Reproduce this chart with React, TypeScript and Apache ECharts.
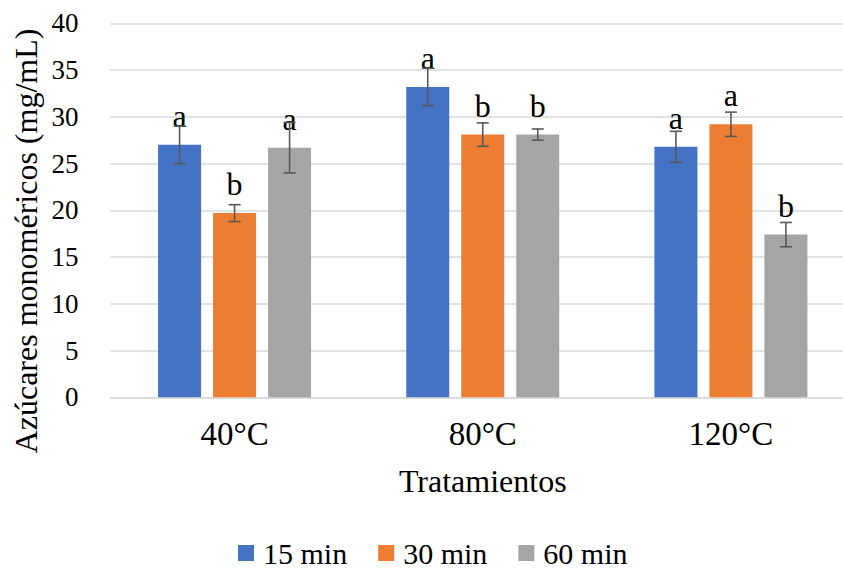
import React, { useEffect, useRef } from "react";
import * as echarts from "echarts";

const categories = ["40°C", "80°C", "120°C"];
const seriesNames = ["15 min", "30 min", "60 min"];
const values15 = [27.0, 33.2, 26.8];
const values30 = [19.7, 28.1, 29.2];
const values60 = [26.7, 28.1, 17.4];
const errors15 = [2.0, 2.0, 1.65];
const errors30 = [0.9, 1.25, 1.3];
const errors60 = [2.7, 0.6, 1.3];
const letters15 = ["a", "a", "a"];
const letters30 = ["b", "b", "a"];
const letters60 = ["a", "b", "b"];
const yTicks = [0, 5, 10, 15, 20, 25, 30, 35, 40];

const colors = ["#4472C4", "#ED7D31", "#A5A5A5"];
const FONT = "Liberation Serif";
const BAR_W = 43;
const BAR_GAP = 12;

export default function App() {
  const ref = useRef<HTMLDivElement>(null);
  useEffect(() => {
    if (!ref.current) return;
    const chart = echarts.init(ref.current, undefined, { renderer: "svg" });
    const allValues = [values15, values30, values60];
    const allErrors = [errors15, errors30, errors60];
    const allLetters = [letters15, letters30, letters60];

    const barSeries = seriesNames.map((name, si) => ({
      name,
      type: "bar",
      barWidth: BAR_W,
      barGap: (BAR_GAP / BAR_W) * 100 + "%",
      itemStyle: { color: colors[si] },
      data: allValues[si],
      label: {
        show: true,
        position: "top",
        distance: 13,
        formatter: (p: any) => allLetters[si][p.dataIndex],
        fontFamily: FONT,
        fontSize: 32,
        color: "#000",
      },
      z: 2,
    }));

    const errSeries = seriesNames.map((name, si) => ({
      name: name + "_err",
      type: "custom",
      z: 3,
      silent: true,
      data: allValues[si].map((v, i) => [i, v, allErrors[si][i]]),
      renderItem: (params: any, api: any) => {
        const idx = api.value(0);
        const v = api.value(1);
        const e = api.value(2);
        const top = api.coord([idx, v + e]);
        const bot = api.coord([idx, v - e]);
        const off = (si - 1) * (BAR_W + BAR_GAP);
        const x = top[0] + off;
        const cap = 6;
        const style = { stroke: "#595959", lineWidth: 1.6 };
        return {
          type: "group",
          children: [
            { type: "line", shape: { x1: x, y1: top[1], x2: x, y2: bot[1] }, style },
            { type: "line", shape: { x1: x - cap, y1: top[1], x2: x + cap, y2: top[1] }, style },
            { type: "line", shape: { x1: x - cap, y1: bot[1], x2: x + cap, y2: bot[1] }, style },
          ],
        };
      },
    }));

    chart.setOption({
      animation: false,
      backgroundColor: "#fff",
      textStyle: { fontFamily: FONT, color: "#000" },
      grid: { left: 110.5, top: 23.3, bottom: 171.7, right: 0, containLabel: false },
      legend: {
        data: seriesNames,
        top: 533,
        left: 233,
        itemWidth: 16,
        itemHeight: 16,
        itemGap: 31,
        icon: "rect",
        textStyle: {
          fontFamily: FONT,
          fontSize: 30,
          lineHeight: 26,
          color: "#000",
          padding: [0, 0, 0, 4],
        },
      },
      xAxis: {
        type: "category",
        data: categories,
        name: "Tratamientos",
        nameLocation: "middle",
        nameGap: 68,
        nameTextStyle: { fontFamily: FONT, fontSize: 32, color: "#000" },
        axisLine: { show: true, lineStyle: { color: "#D9D9D9", width: 1.5 } },
        axisTick: { show: false },
        axisLabel: { fontFamily: FONT, fontSize: 33, color: "#000", margin: 20 },
      },
      yAxis: {
        type: "value",
        min: yTicks[0],
        max: yTicks[yTicks.length - 1],
        interval: 5,
        axisLine: { show: false },
        axisTick: { show: false },
        splitLine: { lineStyle: { color: "#D9D9D9", width: 1.5 } },
        axisLabel: { fontFamily: FONT, fontSize: 27, color: "#000", margin: 32 },
      },
      graphic: [
        {
          type: "text",
          x: 26,
          y: 241,
          rotation: Math.PI / 2,
          style: {
            text: "Azúcares monoméricos (mg/mL)",
            font: `32px ${FONT}`,
            fill: "#000",
            textAlign: "center",
            textVerticalAlign: "middle",
          },
        },
      ],
      series: [...barSeries, ...errSeries],
    });
    return () => chart.dispose();
  }, []);
  return (
    <div style={{ position: "fixed", left: 0, top: 0, width: 843, height: 569, overflow: "hidden" }}>
      <div ref={ref} style={{ position: "absolute", left: 0, top: 0, width: 854.5, height: 569 }} />
    </div>
  );
}
